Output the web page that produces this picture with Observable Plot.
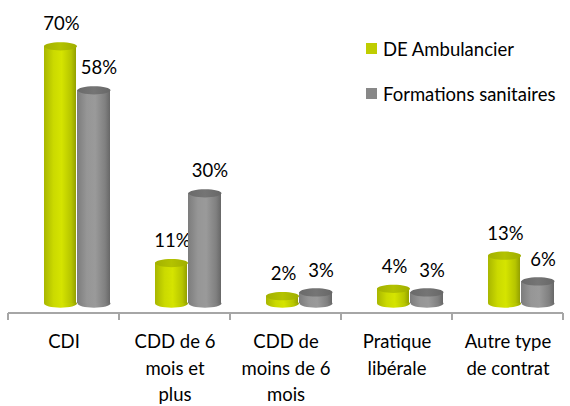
<!DOCTYPE html>
<html>
<head>
<meta charset="utf-8">
<script src="https://cdn.jsdelivr.net/npm/d3@7"></script>
<script src="https://cdn.jsdelivr.net/npm/@observablehq/plot@0.6"></script>
<style>
  html, body { margin: 0; padding: 0; background: #fff; }
  #wrap { position: relative; width: 570px; height: 406px; font-family: Lato, sans-serif; }
  #legend { position: absolute; left: 366px; top: 36px; font-size: 18.5px; color: #000; }
  .row { display: flex; align-items: center; height: 25px; margin-bottom: 20px; white-space: nowrap; }
  .sw { width: 11px; height: 11px; margin-right: 6px; flex: none; }
</style>
</head>
<body>
<div id="wrap">
  <div id="chart"></div>
  <div id="legend"></div>
</div>
<script>
const categories = ["CDI", "CDD de 6 mois et plus", "CDD de moins de 6 mois", "Pratique libérale", "Autre type de contrat"];
const tickLabels = ["CDI", "CDD de 6\nmois et\nplus", "CDD de\nmoins de 6\nmois", "Pratique\nlibérale", "Autre type\nde contrat"];
const seriesNames = ["DE Ambulancier", "Formations sanitaires"];
const ambulancier = [70, 11, 2, 4, 13];
const sanitaires = [58, 30, 3, 3, 6];
const seriesColors = ["#bfcd00", "#888888"];

const rows = (vals, s) => categories.map((c, i) => ({category: c, series: s, value: vals[i]}));
const dataA = rows(ambulancier, seriesNames[0]);
const dataB = rows(sanitaires, seriesNames[1]);

const ellipse = {
  draw(context, size) {
    const rx = Math.sqrt(size / Math.PI), ry = rx * 0.25, k = 0.5523;
    context.moveTo(rx, 0);
    context.bezierCurveTo(rx, k * ry, k * rx, ry, 0, ry);
    context.bezierCurveTo(-k * rx, ry, -rx, k * ry, -rx, 0);
    context.bezierCurveTo(-rx, -k * ry, -k * rx, -ry, 0, -ry);
    context.bezierCurveTo(k * rx, -ry, rx, -k * ry, rx, 0);
    context.closePath();
  }
};

function defs() {
  const d = d3.create("svg:defs");
  const grad = (id, stops) => {
    const g = d.append("linearGradient").attr("id", id).attr("x1", 0).attr("x2", 1).attr("y1", 0).attr("y2", 0);
    stops.forEach(([o, c]) => g.append("stop").attr("offset", o).attr("stop-color", c));
  };
  grad("gGreen", [[0, "#a8b600"], [0.3, "#cbda00"], [0.55, "#d5e400"], [0.85, "#b6c500"], [1, "#93a000"]]);
  grad("gGrey", [[0, "#7c7c7c"], [0.3, "#969696"], [0.55, "#9a9a9a"], [0.85, "#808080"], [1, "#676767"]]);
  grad("tGreen", [[0, "#a3b100"], [0.5, "#b3c200"], [1, "#a0ae00"]]);
  grad("tGrey", [[0, "#6a6a6a"], [0.5, "#757575"], [1, "#676767"]]);
  return d.node();
}

function cylinder(data, body, top, insetLeft, insetRight, dx, labelDx) {
  return [
    Plot.dot(data, {x: "category", y: () => 0, dx, r: 16.5, symbol: ellipse, fill: body, stroke: "none"}),
    Plot.barY(data, {x: "category", y: "value", insetLeft, insetRight, fill: body}),
    Plot.dot(data, {x: "category", y: "value", dx, r: 16.5, symbol: ellipse, fill: top, stroke: "none"}),
    Plot.text(data, {x: "category", y: "value", text: d => d.value + "%", dx: dx + labelDx, dy: -29, lineAnchor: "top", fontSize: 18.5, fill: "#000"})
  ];
}

function axisLine(index, scales, values, dimensions) {
  const {x, y} = scales;
  let bw = typeof x.bandwidth === "function" ? x.bandwidth() : x.bandwidth;
  if (bw == null) bw = (dimensions.width - dimensions.marginLeft - dimensions.marginRight) / categories.length;
  const edges = categories.map(c => x(c)).concat([x(categories[categories.length - 1]) + bw]);
  const y0 = y(0) + 10;
  const g = d3.create("svg:g").attr("stroke", "#a6a6a6").attr("stroke-width", 2);
  g.append("line").attr("x1", edges[0]).attr("x2", edges[edges.length - 1]).attr("y1", y0).attr("y2", y0);
  edges.forEach(e => g.append("line").attr("x1", e).attr("x2", e).attr("y1", y0).attr("y2", y0 + 7));
  return g.node();
}

const chart = Plot.plot({
  width: 570,
  height: 406,
  marginLeft: 6,
  marginRight: 6,
  marginTop: 9,
  marginBottom: 103,
  style: {fontFamily: "Lato, sans-serif", fontSize: "18.5px", color: "#000", background: "#fff"},
  x: {domain: categories, padding: 0},
  y: {domain: [0, 80], axis: null},
  marks: [
    defs,
    ...cylinder(dataA, "url(#gGreen)", "url(#tGreen)", 36, 43, -3.5, 1),
    ...cylinder(dataB, "url(#gGrey)", "url(#tGrey)", 69, 9, 30, 5),
    axisLine,
    Plot.axisX({tickSize: 0, tickPadding: 26, tickFormat: d => tickLabels[categories.indexOf(d)], fontSize: 18.5, lineHeight: 1.43, label: null, fill: "#000"})
  ]
});
document.getElementById("chart").appendChild(chart);

const legend = document.getElementById("legend");
seriesNames.forEach((name, i) => {
  const row = document.createElement("div");
  row.className = "row";
  const sw = document.createElement("span");
  sw.className = "sw";
  sw.style.background = seriesColors[i];
  const t = document.createElement("span");
  t.textContent = name;
  row.appendChild(sw);
  row.appendChild(t);
  legend.appendChild(row);
});
</script>
</body>
</html>
